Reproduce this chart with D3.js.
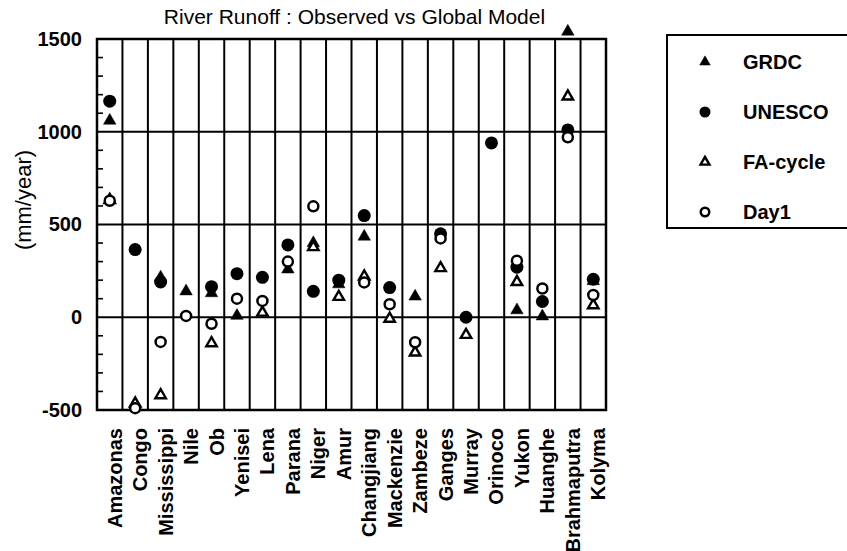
<!DOCTYPE html>
<html>
<head>
<meta charset="utf-8">
<script src="https://cdn.jsdelivr.net/npm/d3@7"></script>
<style>
  html, body { margin: 0; padding: 0; background: #fff; }
  svg { display: block; font-family: "Liberation Sans", Arial, Helvetica, sans-serif; font-weight: bold; }
</style>
</head>
<body>
<svg id="chart" width="847" height="551"></svg>
<script>
// River runoff (mm/year): observed (GRDC, UNESCO) vs model runs (FA-cycle, Day1)
const rivers = ["Amazonas", "Congo", "Mississippi", "Nile", "Ob", "Yenisei", "Lena",
  "Parana", "Niger", "Amur", "Changjiang", "Mackenzie", "Zambeze", "Ganges",
  "Murray", "Orinoco", "Yukon", "Huanghe", "Brahmaputra", "Kolyma"];

const grdc    = [1060, null, 215, 140, 130,   8, null, 258, 400, 178, 435, null,  112, null, null, null,  38,   5, 1540, 195];
const unesco  = [1165,  365, 190, null, 165, 235, 215, 390, 140, 200, 548,  160, null,  450,    0,  940, 270,  85, 1010, 205];
const faCycle = [ 632, -465, -420, null, -140, null, 25, null, 378, 110, 220,   -8, -190,  265,  -95, null, 190, null, 1190,  65];
const day1    = [ 628, -490, -133,    7,  -35, 100,  88, 300, 598, null, 188,   70, -135,  425, null, null, 305, 155,  970, 120];

const yTicks = [-500, 0, 500, 1000, 1500];
const yMinor = d3.range(-400, 1500, 100).filter(v => v % 500 !== 0);

const series = [
  { name: "GRDC",     values: grdc,    shape: "triangle", filled: true },
  { name: "UNESCO",   values: unesco,  shape: "circle",   filled: true },
  { name: "FA-cycle", values: faCycle, shape: "triangle", filled: false },
  { name: "Day1",     values: day1,    shape: "circle",   filled: false }
];

const svg = d3.select("#chart");
const plotL = 97, plotR = 606, plotT = 39, plotB = 410;

const x = d3.scaleBand().domain(rivers).range([plotL, plotR]).padding(0);
const y = d3.scaleLinear().domain([-500, 1500]).range([plotB, plotT]);

// Title
svg.append("text")
  .attr("x", (plotL + plotR) / 2 + 3).attr("y", 24)
  .attr("text-anchor", "middle")
  .attr("font-size", 21)
  .attr("font-weight", "normal")
  .text("River Runoff : Observed vs Global Model");

// Vertical separators between rivers
svg.append("g").selectAll("line")
  .data(rivers.slice(1))
  .join("line")
  .attr("x1", d => x(d)).attr("x2", d => x(d))
  .attr("y1", plotT).attr("y2", plotB)
  .attr("stroke", "#000").attr("stroke-width", 2);

// Horizontal reference lines at the labelled values
svg.append("g").selectAll("line")
  .data(yTicks.slice(1, -1))
  .join("line")
  .attr("x1", plotL).attr("x2", plotR)
  .attr("y1", d => y(d)).attr("y2", d => y(d))
  .attr("stroke", "#000").attr("stroke-width", 2);

// Left axis: plain integer labels with ASCII hyphen for negatives
const yAxis = d3.axisLeft(y)
  .tickValues(yTicks)
  .tickFormat(d => String(d))
  .tickSize(0).tickPadding(15);
const gy = svg.append("g").attr("transform", `translate(${plotL},0)`).call(yAxis);
gy.select(".domain").remove();
gy.selectAll("text")
  .attr("font-size", 20)
  .attr("font-family", "Liberation Sans, Arial, sans-serif")
  .attr("font-weight", "bold")
  .attr("fill", "#000");

// Inner minor ticks every 100
svg.append("g").selectAll("line")
  .data(yMinor)
  .join("line")
  .attr("x1", plotL).attr("x2", plotL + 6)
  .attr("y1", d => y(d)).attr("y2", d => y(d))
  .attr("stroke", "#000").attr("stroke-width", 1.6);

// Frame
svg.append("rect")
  .attr("x", plotL).attr("y", plotT)
  .attr("width", plotR - plotL).attr("height", plotB - plotT)
  .attr("fill", "none").attr("stroke", "#000").attr("stroke-width", 2.5);

// Y axis title
svg.append("text")
  .attr("transform", "translate(31,200) rotate(-90)")
  .attr("text-anchor", "middle")
  .attr("font-size", 22)
  .attr("font-weight", "normal")
  .text("(mm/year)");

// River names, rotated
svg.append("g").selectAll("text")
  .data(rivers)
  .join("text")
  .attr("transform", d => `translate(${x(d) + x.bandwidth() / 2 + 12},428) rotate(-90)`)
  .attr("text-anchor", "end")
  .attr("font-size", 20)
  .text(d => d);

// Marker drawing helper
function drawMarker(g, shape, filled, cx, cy, scale) {
  if (shape === "circle") {
    g.append("circle")
      .attr("cx", cx).attr("cy", cy)
      .attr("r", filled ? 6.5 * scale : 5 * scale)
      .attr("fill", filled ? "#000" : "#fff")
      .attr("stroke", "#000")
      .attr("stroke-width", filled ? 0 : 2.5);
  } else {
    const w = filled ? 12.5 * scale : 10.5 * scale;
    const area = Math.sqrt(3) / 4 * w * w;
    g.append("path")
      .attr("d", d3.symbol(d3.symbolTriangle, area)())
      .attr("transform", `translate(${cx},${cy})`)
      .attr("fill", filled ? "#000" : "#fff")
      .attr("stroke", "#000")
      .attr("stroke-width", filled ? 0.5 : 2.4)
      .attr("stroke-linejoin", "miter");
  }
}

// Data points: filled (observed) first, open (model) on top
const marks = svg.append("g");
series.forEach(s => {
  s.values.forEach((v, i) => {
    if (v === null) return;
    drawMarker(marks, s.shape, s.filled, x(rivers[i]) + x.bandwidth() / 2, y(v), 1);
  });
});

// Legend
const lg = svg.append("g");
lg.append("rect")
  .attr("x", 667).attr("y", 35).attr("width", 220).attr("height", 193)
  .attr("fill", "none").attr("stroke", "#000").attr("stroke-width", 2);
series.forEach((s, i) => {
  const ly = 62 + i * 50;
  drawMarker(lg, s.shape, s.filled, 705, ly, 0.85);
  lg.append("text")
    .attr("x", 743).attr("y", ly).attr("dy", "0.36em")
    .attr("font-size", 20)
    .text(s.name);
});
</script>
</body>
</html>
